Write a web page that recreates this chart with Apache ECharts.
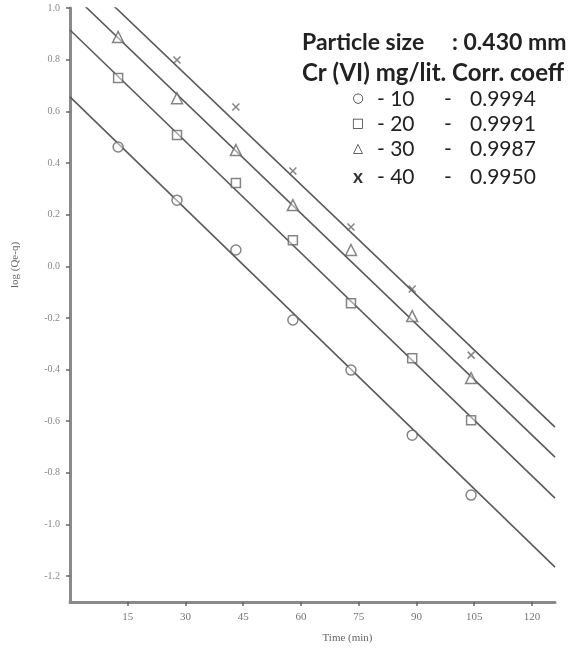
<!DOCTYPE html>
<html><head><meta charset="utf-8">
<script src="https://cdn.jsdelivr.net/npm/echarts@6/dist/echarts.min.js"></script>
<style>html,body{margin:0;padding:0;background:#fff}#c{width:576px;height:649px}</style>
</head><body><div id="c"></div>
<script>
// ---- data ----
const times = [12.5, 27.8, 43.1, 57.9, 73.0, 88.9, 104.2];
const cr10 = [0.462, 0.256, 0.063, -0.208, -0.402, -0.654, -0.886];
const cr20 = [0.729, 0.508, 0.322, 0.101, -0.143, -0.356, -0.596];
const cr30 = [0.888, 0.651, 0.450, 0.237, 0.063, -0.193, -0.433];
const cr40 = [null, 0.799, 0.617, 0.369, 0.152, -0.088, -0.344];
// fitted lines (endpoints)
const fitT = [0, 126];
const fit10 = [0.656, -1.165];
const fit20 = [0.915, -0.898];
const fit30 = [1.063, -0.739];
const fit40 = [1.170, -0.623];
const xTicks = [15, 30, 45, 60, 75, 90, 105, 120];
const yTicks = [-1.2, -1.0, -0.8, -0.6, -0.4, -0.2, 0.0, 0.2, 0.4, 0.6, 0.8, 1.0];
const concs = ['10', '20', '30', '40'];
const coeffs = ['0.9994', '0.9991', '0.9987', '0.9950'];
const legendGlyphs = ['\u25CB', '\u25A1', '\u25B3', 'x'];
const titleLine1a = 'Particle size';
const titleLine1b = ': 0.430 mm';
const titleLine2 = 'Cr (VI) mg/lit. Corr. coeff';

const lineColor = '#5a5a5a';
const markColor = '#666';
const axisColor = '#8a8a8a';

function pts(vals){ return times.map((t,i)=>[t, vals[i]]).filter(p=>p[1]!==null); }
function fit(vals){ return fitT.map((t,i)=>[t, vals[i]]); }

const xPath = 'path://M0,0L10,10M10,0L0,10';
const markerDefs = [
  {v: cr10, f: fit10, sym: 'circle', size: 10},
  {v: cr20, f: fit20, sym: 'rect', size: 9},
  {v: cr30, f: fit30, sym: 'triangle', size: 11},
  {v: cr40, f: fit40, sym: xPath, size: 7}
];
const series = [];
markerDefs.forEach(d => {
  series.push({type:'line', data: fit(d.f), showSymbol:false, symbol:'none', clip:true,
    lineStyle:{color: lineColor, width: 1.6}, silent:true, z:2});
  series.push({type:'scatter', data: pts(d.v), symbol: d.sym, symbolSize: d.size, z:3,
    itemStyle:{color:'rgba(255,255,255,0.6)', borderColor: markColor, borderWidth: 1.5}});
});

const graphics = [];
const lx = 302;
graphics.push({type:'text', x: lx, y: 43, style:{text: titleLine1a, font:'bold 23px Lato', fill:'#222', verticalAlign:'middle'}});
graphics.push({type:'text', x: 452, y: 43, style:{text: titleLine1b, font:'bold 23px Lato', fill:'#222', verticalAlign:'middle'}});
graphics.push({type:'text', x: lx, y: 73, style:{text: titleLine2, font:'bold 24px Lato', fill:'#222', verticalAlign:'middle'}});
const rowY = [99, 124, 149, 177];
concs.forEach((c,i)=>{
  graphics.push({type:'text', x: 358, y: rowY[i], style:{text: legendGlyphs[i], font: (i===3?'bold 19px Lato':'13px "DejaVu Sans"'), fill:'#333', align:'center', verticalAlign:'middle'}});
  graphics.push({type:'text', x: 377, y: rowY[i], style:{text: '- ' + c, font:'21px Lato', fill:'#222', verticalAlign:'middle'}});
  graphics.push({type:'text', x: 448, y: rowY[i], style:{text: '-', font:'21px Lato', fill:'#222', align:'center', verticalAlign:'middle'}});
  graphics.push({type:'text', x: 470, y: rowY[i], style:{text: coeffs[i], font:'21px Lato', fill:'#222', verticalAlign:'middle'}});
});
graphics.push({type:'text', x: 15, y: 265, rotation: Math.PI/2, style:{text:'log (Qe-q)', font:'11px "Liberation Serif"', fill:'#666', align:'center', verticalAlign:'middle'}});

const chart = echarts.init(document.getElementById('c'), null, {renderer:'canvas'});
chart.setOption({
  animation:false,
  backgroundColor:'#fff',
  grid:{left:70, right:21, top:8, bottom:47, containLabel:false},
  xAxis:{type:'value', min:0, max:126,
    name:'Time (min)', nameLocation:'middle', nameGap:31,
    nameTextStyle:{fontFamily:'Liberation Serif', fontSize:11, color:'#666', padding:[0,0,0,70]},
    axisLine:{onZero:false, lineStyle:{color:axisColor, width:3}},
    axisTick:{show:true, length:4, lineStyle:{color:'#666', width:1.5}, customValues: xTicks},
    axisLabel:{customValues: xTicks, fontFamily:'Liberation Serif', fontSize:11, color:'#777', margin:10},
    splitLine:{show:false}},
  yAxis:{type:'value', min:-1.3, max:1.0,
    axisLine:{show:true, onZero:false, lineStyle:{color:axisColor, width:3}},
    axisTick:{show:true, length:4, lineStyle:{color:'#666', width:1.5}, customValues: yTicks},
    axisLabel:{customValues: yTicks, fontFamily:'Liberation Serif', fontSize:10, color:'#888', margin:10,
      formatter: v => v.toFixed(1)},
    splitLine:{show:false}},
  graphic: graphics,
  series: series
});
</script>
</body></html>
